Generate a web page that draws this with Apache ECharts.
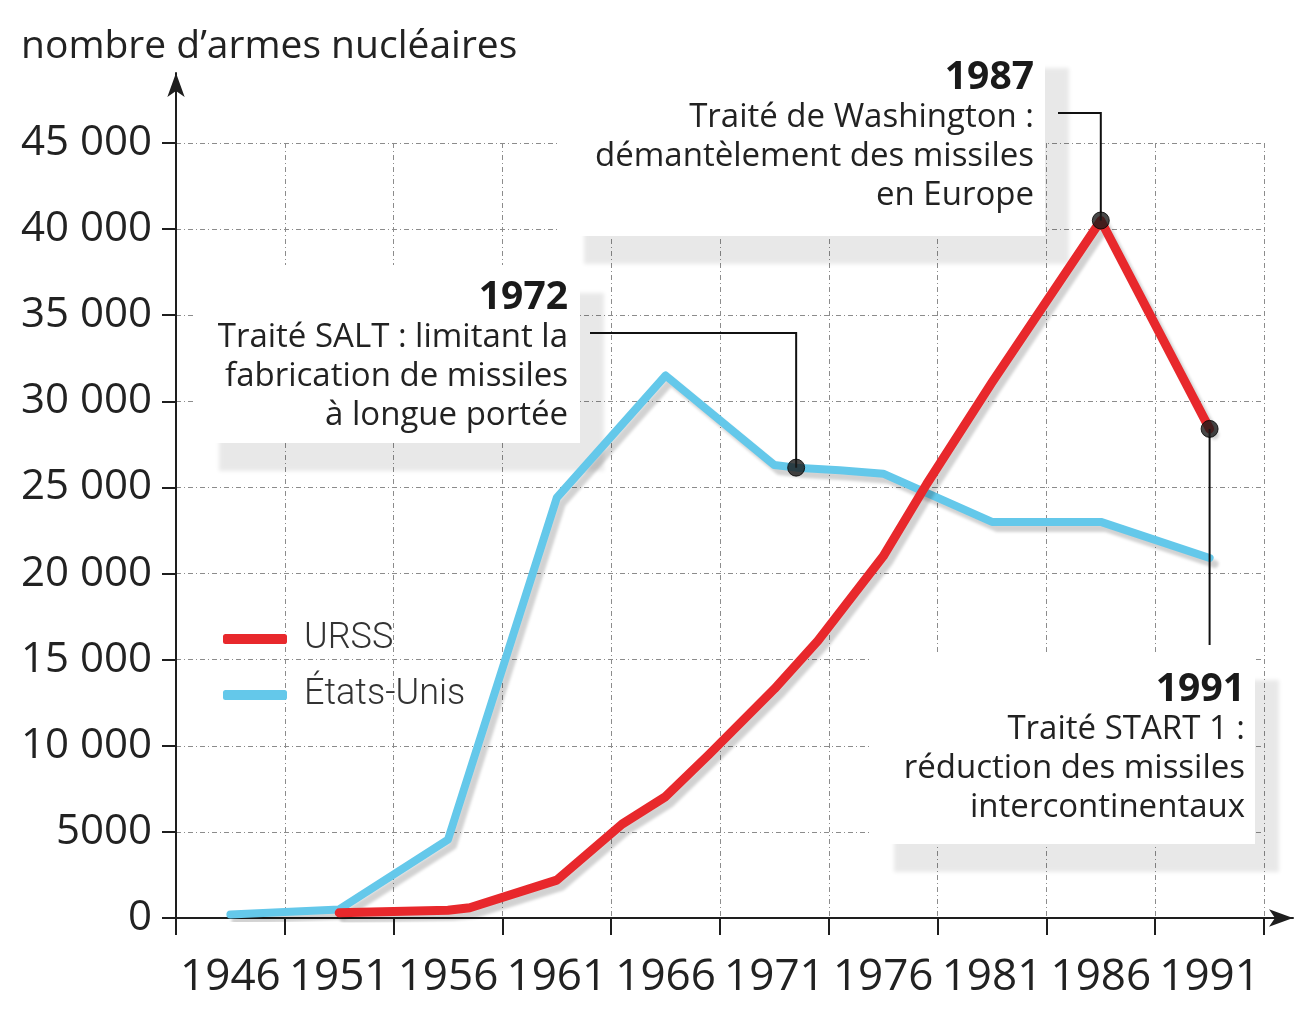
<!DOCTYPE html>
<html><head><meta charset="utf-8">
<script src="https://cdn.jsdelivr.net/npm/echarts@6/dist/echarts.min.js"></script>
<style>html,body{margin:0;padding:0;background:#fff}#c{width:1308px;height:1021px}</style>
</head><body><div id="c"></div>
<script>
// ---- data ----
const xLabelYears = ['1946','1951','1956','1961','1966','1971','1976','1981','1986','1991'];
const usYears   = ['1946','1951','1956','1961','1966','1971','1972','1974','1976','1981','1986','1991'];
const usValues  = [200, 500, 4550, 24400, 31500, 26300, 26150, 26000, 25800, 23000, 23000, 20900];
const ussrYears = ['1951','1956','1957','1961','1964','1966','1968','1971','1973','1976','1978','1981','1986','1991'];
const ussrValues= [300, 450, 600, 2200, 5450, 7050, 9500, 13300, 16100, 21000, 25200, 31100, 40500, 28400];
const dotYears  = ['1972','1986','1991'];
const dotValues = [26150, 40500, 28400];
const noteTitles = ['1972','1987','1991'];
const noteLines = [
  ['Traité SALT : limitant la','fabrication de missiles','à longue portée'],
  ['Traité de Washington :','démantèlement des missiles','en Europe'],
  ['Traité START 1 :','réduction des missiles','intercontinentaux']
];
const yTitle = 'nombre d\u2019armes nucléaires';
const seriesNames = ['URSS','États-Unis'];

// axis domain: one category per year
const axisYears = [];
for (let y = 1944; y <= 1993; y++) axisYears.push(String(y));

const FONT = '"Open Sans", "Noto Sans", sans-serif';
const RED = '#e8282c', CYAN = '#64c8ea', INK = '#1e1e1e';
const gridLine = {show:true, lineStyle:{color:'#8c8c8c', width:1, type:[5,3,1,3]}};

const chart = echarts.init(document.getElementById('c'), null, {renderer:'canvas'});

const option = {
  backgroundColor:'#fff',
  animation:false,
  title:{text:yTitle, left:16, top:22, textStyle:{fontFamily:FONT, fontSize:39, fontWeight:'normal', color:'#222'}},
  legend:{
    data:seriesNames, orient:'vertical', left:218, top:614,
    icon:'roundRect', itemWidth:64, itemHeight:10, itemGap:16,
    textStyle:{fontFamily:'Roboto, sans-serif', fontWeight:300, fontSize:36, lineHeight:40, color:'#333', padding:[0,0,0,12]}
  },
  grid:[
    {left:176, right:44, top:143, bottom:103, containLabel:false},
    {left:176, right:15, top:73, bottom:103, containLabel:false}
  ],
  xAxis:[
    {type:'category', gridIndex:0, data:axisYears, boundaryGap:true,
     axisLine:{show:true, lineStyle:{color:INK, width:2}},
     axisTick:{show:true, length:17, inside:false, lineStyle:{color:INK, width:2},
               interval:(i)=> i % 5 === 0},
     axisLabel:{interval:(i, v)=> xLabelYears.indexOf(v) >= 0, margin:37,
                fontFamily:FONT, fontSize:44, color:'#222'},
     splitLine:Object.assign({interval:(i)=> i % 5 === 0}, gridLine)},
    {type:'value', gridIndex:1, min:0, max:1, show:true,
     axisLine:{show:true, symbol:['none','arrow'], symbolSize:[13,24], lineStyle:{color:INK, width:2}},
     axisTick:{show:false}, axisLabel:{show:false}, splitLine:{show:false}}
  ],
  yAxis:[
    {type:'value', gridIndex:0, min:0, max:45000, interval:5000,
     axisLine:{show:true, lineStyle:{color:INK, width:2}},
     axisTick:{show:true, length:14, inside:false, lineStyle:{color:INK, width:2}},
     axisLabel:{margin:24, fontFamily:FONT, fontSize:42, color:'#222',
       formatter:(v)=> v >= 10000 ? String(v).replace(/(\d+)(\d{3})$/, '$1 $2') : String(v)},
     splitLine:gridLine},
    {type:'value', gridIndex:1, min:0, max:1,
     axisLine:{show:true, symbol:['none','arrow'], symbolSize:[13,24], lineStyle:{color:INK, width:2}},
     axisTick:{show:false}, axisLabel:{show:false}, splitLine:{show:false}}
  ],
  series:[
    {name:seriesNames[1], type:'line', xAxisIndex:0, yAxisIndex:0, symbol:'none', z:3,
     data:usYears.map((y,i)=>[y, usValues[i]]),
     itemStyle:{color:CYAN},
     lineStyle:{color:CYAN, width:8, cap:'round', join:'round',
       shadowColor:'rgba(0,0,0,0.18)', shadowBlur:3, shadowOffsetX:5, shadowOffsetY:6}},
    {name:seriesNames[0], type:'line', xAxisIndex:0, yAxisIndex:0, symbol:'none', z:4,
     data:ussrYears.map((y,i)=>[y, ussrValues[i]]),
     itemStyle:{color:RED},
     lineStyle:{color:RED, width:9, cap:'round', join:'round',
       shadowColor:'rgba(0,0,0,0.18)', shadowBlur:3, shadowOffsetX:5, shadowOffsetY:6}},
    {name:'points', type:'scatter', xAxisIndex:0, yAxisIndex:0, z:6,
     symbol:'circle', symbolSize:17,
     data:dotYears.map((y,i)=>[y, dotValues[i]]),
     itemStyle:{color:'#1a1a1a', borderColor:'#000', borderWidth:1}}
  ]
};
chart.setOption(option);

// annotation boxes (layout) + leader lines anchored to data points
const boxes = [
  {x:195, y:265, w:385, h:178, right:568, top:298},
  {x:560, y:40,  w:485, h:196, right:1034, top:78},
  {x:870, y:652, w:385, h:192, right:1245, top:690}
];
const els = [];
boxes.forEach((b, k) => {
  els.push({type:'rect', z:1, shape:{x:b.x, y:b.y, width:b.w, height:b.h},
    style:{fill:'#fff', shadowColor:'rgba(0,0,0,0.09)', shadowBlur:4, shadowOffsetX:24, shadowOffsetY:28}});
  els.push({type:'text', z:10, style:{text:noteTitles[k], x:b.right, y:b.top, align:'right', verticalAlign:'middle',
    font:'bold 39px ' + FONT, fill:'#1a1a1a'}});
  noteLines[k].forEach((t, j) => {
    els.push({type:'text', z:10, style:{text:t, x:b.right, y:b.top + 40 + j*39, align:'right', verticalAlign:'middle',
      font:'33px ' + FONT, fill:'#222'}});
  });
});
const p = dotYears.map((y,i)=> chart.convertToPixel({gridIndex:0}, [y, dotValues[i]]));
const lead = {stroke:'#111', lineWidth:2, fill:null};
els.push({type:'polyline', z:5, shape:{points:[[590,333],[p[0][0],333],[p[0][0],p[0][1]]]}, style:lead});
els.push({type:'polyline', z:5, shape:{points:[[1058,113],[p[1][0],113],[p[1][0],p[1][1]]]}, style:lead});
els.push({type:'polyline', z:5, shape:{points:[[p[2][0],p[2][1]],[p[2][0],645]]}, style:lead});
chart.setOption({graphic:{elements:els}});
</script></body></html>
